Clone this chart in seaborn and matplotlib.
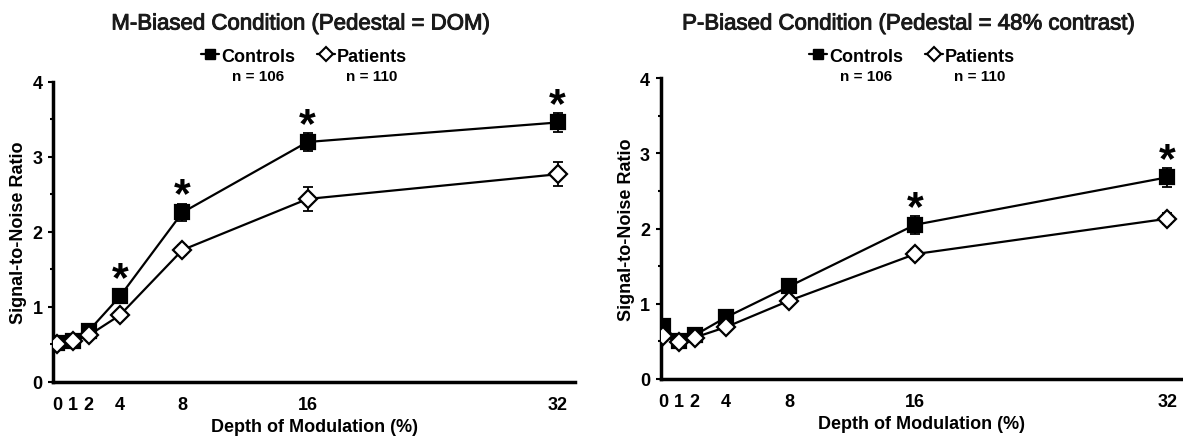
import pandas as pd
import matplotlib
matplotlib.use("Agg")
import matplotlib.pyplot as plt
import matplotlib.patheffects as pe
import seaborn as sns
from matplotlib.lines import Line2D
from matplotlib.ticker import MultipleLocator

# values
depth = [0, 1, 2, 4, 8, 16, 32]
groups = ["Controls", "Patients"]
n_labels = ["n = 106", "n = 110"]

m_controls = [0.52, 0.55, 0.68, 1.14, 2.26, 3.20, 3.46]
m_controls_err = [0.03, 0.03, 0.04, 0.05, 0.11, 0.12, 0.13]
m_patients = [0.51, 0.55, 0.62, 0.89, 1.76, 2.44, 2.77]
m_patients_err = [0.03, 0.03, 0.04, 0.05, 0.07, 0.16, 0.16]
m_sig = [4, 8, 16, 32]

p_controls = [0.71, 0.50, 0.58, 0.82, 1.23, 2.05, 2.68]
p_controls_err = [0.04, 0.03, 0.04, 0.05, 0.07, 0.12, 0.13]
p_patients = [0.575, 0.49, 0.55, 0.69, 1.04, 1.66, 2.13]
p_patients_err = [0.03, 0.03, 0.03, 0.04, 0.05, 0.07, 0.07]
p_sig = [16, 32]

titles = ["M-Biased Condition (Pedestal = DOM)",
          "P-Biased Condition (Pedestal = 48% contrast)"]

sns.set_theme(style="ticks")
plt.rcParams["font.family"] = ["Liberation Sans", "DejaVu Sans"]
plt.rcParams["text.color"] = "black"
plt.rcParams["axes.labelcolor"] = "black"
plt.rcParams["xtick.color"] = "black"
plt.rcParams["ytick.color"] = "black"

fig = plt.figure(figsize=(11.83, 4.39), dpi=100)
ax1 = fig.add_axes([0.045, 0.1276, 0.441, 0.6834])
ax2 = fig.add_axes([0.5587, 0.1344, 0.4413, 0.6856])

panels = [
    (ax1, m_controls, m_controls_err, m_patients, m_patients_err, m_sig, titles[0], (-0.26, 33.1)),
    (ax2, p_controls, p_controls_err, p_patients, p_patients_err, p_sig, titles[1], (-0.13, 33.0)),
]

for ax, ctl, ctl_err, pat, pat_err, sig, title, xlim in panels:
    df = pd.DataFrame({
        "depth": depth * 2,
        "snr": ctl + pat,
        "group": ["Controls"] * len(depth) + ["Patients"] * len(depth),
    })
    sns.lineplot(data=df, x="depth", y="snr", hue="group", style="group",
                 markers={"Controls": "s", "Patients": "D"}, dashes=False,
                 palette={"Controls": "black", "Patients": "black"},
                 markersize=9.5, linewidth=1.6,
                 errorbar=None, legend=False, ax=ax)
    ax.lines[0].set_zorder(3)
    ax.lines[1].set_zorder(4)
    ax.lines[1].set_markerfacecolor("white")
    ax.lines[1].set_markersize(9.3)
    for ln in ax.lines[:2]:
        ln.set_markeredgecolor("black")
        ln.set_markeredgewidth(1.6)

    ax.errorbar(depth, ctl, yerr=ctl_err, fmt="none", ecolor="black",
                elinewidth=1.3, capsize=3.5, capthick=1.3, zorder=2)
    ax.errorbar(depth, pat, yerr=pat_err, fmt="none", ecolor="black",
                elinewidth=1.3, capsize=3.5, capthick=1.3, zorder=2)

    for d in sig:
        i = depth.index(d)
        ax.text(d, ctl[i] + 0.08, "*", ha="center", va="baseline",
                fontsize=31, fontweight="bold")

    ax.set_xlim(*xlim)
    ax.set_ylim(0, 4)
    ax.set_xticks(depth)
    ax.set_xticklabels([str(d) for d in depth], fontsize=13, fontweight="bold")
    ax.yaxis.set_major_locator(MultipleLocator(1))
    ax.yaxis.set_minor_locator(MultipleLocator(0.5))
    ax.tick_params(axis="y", which="major", length=3.5, width=1.5,
                   labelsize=13, pad=4.3)
    ax.tick_params(axis="y", which="minor", length=2.5, width=1.5)
    ax.tick_params(axis="x", length=0, pad=10)
    for lab in ax.get_yticklabels():
        lab.set_fontweight("bold")
    ax.set_xlabel("Depth of Modulation (%)", fontsize=13, fontweight="bold", labelpad=4)
    ax.set_ylabel("Signal-to-Noise Ratio", fontsize=13, fontweight="bold", labelpad=3.5)
    sns.despine(ax=ax)
    for s in ["left", "bottom"]:
        ax.spines[s].set_linewidth(2.5)
        ax.spines[s].set_color("black")

    handles = [
        Line2D([], [], color="black", marker="s", markersize=7.5, linewidth=1.6),
        Line2D([], [], color="black", marker="D", markersize=7, linewidth=1.6,
               markerfacecolor="white", markeredgewidth=1.5),
    ]
    pos = ax.get_position()
    fig.text(pos.x0 + 0.475 * pos.width, 1 - 25 / 439, title, ha="center",
             va="center", fontsize=16, color="#1a1a1a",
             path_effects=[pe.withStroke(linewidth=0.7, foreground="#1a1a1a")])
    ax.legend(handles, groups, ncol=2, loc="center",
              bbox_to_anchor=(pos.x0 + 0.481 * pos.width, 1 - 57 / 439),
              bbox_transform=fig.transFigure, frameon=False,
              handlelength=1.0, handletextpad=0.1, columnspacing=1.2,
              borderpad=0, prop={"weight": "bold", "size": 13})

# n labels centred under each legend entry
fig.canvas.draw()
for ax in (ax1, ax2):
    leg = ax.get_legend()
    for txt, n in zip(leg.get_texts(), n_labels):
        bb = txt.get_window_extent()
        fx = (bb.x0 + bb.x1) / 2 / fig.bbox.width
        fig.text(fx, 1 - 77 / 439, n, ha="center", va="center",
                 fontsize=11, fontweight="bold")

fig.savefig("out.png", dpi=100)
